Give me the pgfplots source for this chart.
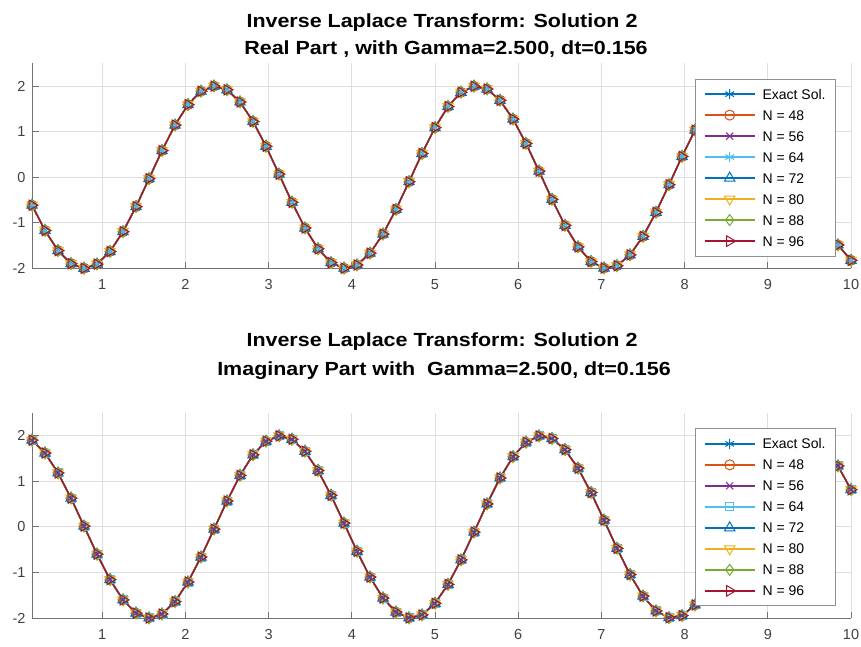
\documentclass[border=0pt]{standalone}
\usepackage{pgfplots}
\pgfplotsset{compat=1.18}
\usepackage{pgfplotstable}
\usepackage{fontspec}
\setmainfont{Liberation Sans}
\newfontfamily\titlefont{Liberation Sans}[FakeStretch=1.13]

\definecolor{mblue}{rgb}{0,0.447,0.741}
\definecolor{morange}{rgb}{0.85,0.325,0.098}
\definecolor{myellow}{rgb}{0.929,0.694,0.125}
\definecolor{mpurple}{rgb}{0.494,0.184,0.556}
\definecolor{mgreen}{rgb}{0.466,0.674,0.188}
\definecolor{mcyan}{rgb}{0.301,0.745,0.933}
\definecolor{mdarkred}{rgb}{0.635,0.078,0.184}
\definecolor{axgray}{rgb}{0.45,0.45,0.45}
\definecolor{gridgray}{rgb}{0.87,0.87,0.87}

% t = k*dt (dt = 0.15625), real and imaginary parts of the inverted solution
\pgfplotstableread{
t re im
0.15625 -0.6149 1.9031
0.3125 -1.1702 1.6219
0.46875 -1.6122 1.1835
0.625 -1.8979 0.6306
0.78125 -2.0000 0.0166
0.9375 -1.9081 -0.5990
1.09375 -1.6316 -1.1566
1.25 -1.1969 -1.6023
1.40625 -0.6464 -1.8927
1.5625 -0.0332 -1.9997
1.71875 0.5833 -1.9131
1.875 1.1431 -1.6411
2.03125 1.5925 -1.2100
2.1875 1.8871 -0.6621
2.34375 1.9994 -0.0498
2.5 1.9178 0.5673
2.65625 1.6506 1.1295
2.8125 1.2233 1.5823
2.96875 0.6776 1.8817
3.125 0.0664 1.9989
3.28125 -0.5514 1.9225
3.4375 -1.1160 1.6597
3.59375 -1.5719 1.2365
3.75 -1.8760 0.6933
3.90625 -1.9983 0.0830
4.0625 -1.9271 -0.5355
4.21875 -1.6693 -1.1020
4.375 -1.2496 -1.5616
4.53125 -0.7088 -1.8702
4.6875 -0.0997 -1.9975
4.84375 0.5194 -1.9315
5.0 1.0880 -1.6781
5.15625 1.5512 -1.2626
5.3125 1.8642 -0.7244
5.46875 1.9966 -0.1162
5.625 1.9357 0.5034
5.78125 1.6872 1.0741
5.9375 1.2753 1.5406
6.09375 0.7398 1.8582
6.25 0.1327 1.9956
6.40625 -0.4873 1.9397
6.5625 -1.0600 1.6960
6.71875 -1.5302 1.2878
6.875 -1.8522 0.7548
7.03125 -1.9944 0.1493
7.1875 -1.9438 -0.4712
7.34375 -1.7048 -1.0458
7.5 -1.3006 -1.5194
7.65625 -0.7706 -1.8456
7.8125 -0.1659 -1.9931
7.96875 0.4551 -1.9476
8.125 1.0317 -1.7134
8.28125 1.5086 -1.3133
8.4375 1.8392 -0.7858
8.59375 1.9917 -0.1825
8.75 1.9512 0.4389
8.90625 1.7219 1.0174
9.0625 1.3259 1.4974
9.21875 0.8010 1.8326
9.375 0.1989 1.9901
9.53125 -0.4226 1.9548
9.6875 -1.0034 1.7300
9.84375 -1.4866 1.3380
10.0 -1.8259 0.8162
}\sol

\pgfplotsset{
  panel/.style={
    scale only axis, width=819pt, height=205pt,
    anchor=south west,
    xmin=0.15625, xmax=10, ymin=-2, ymax=2.5,
    xtick={1,2,...,10}, ytick={-2,-1,0,1,2},
    axis x line=bottom, axis y line=left,
    axis line style={-, draw=axgray, line width=0.9pt},
    tick align=inside, major tick length=6.5pt,
    tick style={draw=axgray, line width=0.9pt},
    grid=major, major grid style={draw=gridgray, line width=0.8pt},
    /pgf/number format/assume math mode=true,
    ticklabel style={font=\fontsize{14.5}{16}\selectfont, text=black!75},
    xticklabel style={yshift=-8pt},
    yticklabel style={xshift=-3pt},
    clip=false,
    every axis plot/.append style={line width=1.4pt},
    legend image code/.code={\draw[line width=1.7pt, mark repeat=2, mark phase=2] plot coordinates {(0pt,0pt) (25pt,0pt) (50pt,0pt)};},
    legend cell align=left,
    legend style={at={(0.9817,0.925)}, anchor=north east, draw=axgray!80, line width=0.9pt, fill=white,
      font=\fontsize{14}{16}\selectfont, inner xsep=8pt, inner ysep=8pt,
      row sep=7pt, column sep=5pt,
      nodes={inner sep=2pt, text height=10pt, text depth=0pt}},
  },
  mk/.style={mark options={solid, fill=none, line width=1pt, #1}},
  ex/.style={color=mblue, mark=asterisk, mark size=5pt, mk={}},
  nA/.style={color=morange, mark=o, mark size=5pt, mk={}},
  nB/.style={color=mpurple, mark=x, mark size=5pt, mk={}},
  nCa/.style={color=mcyan, mark=asterisk, mark size=5pt, mk={}},
  nCb/.style={color=mcyan, mark=square, mark size=4pt, mk={}},
  nD/.style={color=mblue, mark=triangle, mark size=6pt, mk={}},
  nE/.style={color=myellow, mark=triangle, mark size=6pt, mk={rotate=180}},
  nF/.style={color=mgreen, mark=diamond, mark size=5.5pt, mk={}},
  nG/.style={color=mdarkred, mark=triangle, mark size=6pt, mk={rotate=-90}},
}

\begin{document}
\begin{tikzpicture}
\useasboundingbox (0pt,0pt) rectangle (861pt,646pt);

% titles of the two panels
\node[anchor=base, font=\titlefont\bfseries\fontsize{19}{22}\selectfont] at (442pt,618.7pt) {Inverse Laplace Transform: Solution 2};
\node[anchor=base, font=\titlefont\bfseries\fontsize{19}{22}\selectfont] at (446pt,591.7pt) {Real Part , with Gamma=2.500, dt=0.156};
\node[anchor=base, font=\titlefont\bfseries\fontsize{19}{22}\selectfont] at (442pt,299.3pt) {Inverse Laplace Transform: Solution 2};
\node[anchor=base, font=\titlefont\bfseries\fontsize{19}{22}\selectfont] at (444pt,271pt) {Imaginary Part with\ \ Gamma=2.500, dt=0.156};

% real part
\begin{axis}[panel, at={(32pt,377.7pt)}]
\addplot[ex] table[x=t, y=re] {\sol};
\addplot[nA] table[x=t, y=re] {\sol};
\addplot[nB] table[x=t, y=re] {\sol};
\addplot[nCa] table[x=t, y=re] {\sol};
\addplot[nD] table[x=t, y=re] {\sol};
\addplot[nE] table[x=t, y=re] {\sol};
\addplot[nF] table[x=t, y=re] {\sol};
\addplot[nG] table[x=t, y=re] {\sol};
\legend{Exact Sol., N = 48, N = 56, N = 64, N = 72, N = 80, N = 88, N = 96}
\end{axis}

% imaginary part
\begin{axis}[panel, at={(32pt,28pt)}]
\addplot[ex] table[x=t, y=im] {\sol};
\addplot[nA] table[x=t, y=im] {\sol};
\addplot[nB] table[x=t, y=im] {\sol};
\addplot[nCb] table[x=t, y=im] {\sol};
\addplot[nD] table[x=t, y=im] {\sol};
\addplot[nE] table[x=t, y=im] {\sol};
\addplot[nF] table[x=t, y=im] {\sol};
\addplot[nG] table[x=t, y=im] {\sol};
\legend{Exact Sol., N = 48, N = 56, N = 64, N = 72, N = 80, N = 88, N = 96}
\end{axis}
\end{tikzpicture}
\end{document}
